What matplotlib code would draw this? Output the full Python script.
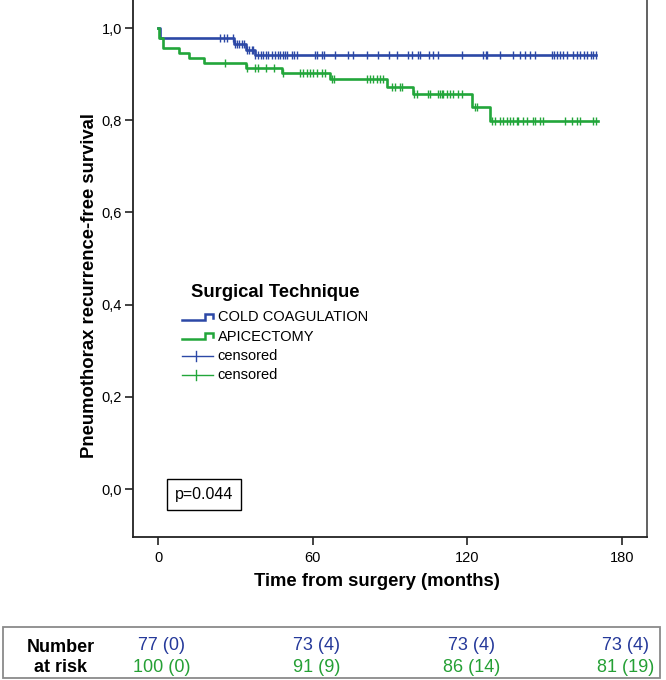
import matplotlib
matplotlib.use('Agg')
import matplotlib.pyplot as plt
import numpy as np
from matplotlib.legend_handler import HandlerBase
from matplotlib.lines import Line2D
from matplotlib.patches import Rectangle
import matplotlib.transforms as mtransforms

plt.rcParams['font.family'] = ['Liberation Sans', 'DejaVu Sans']

# ---------------- data ----------------
group_names = ['COLD COAGULATION', 'APICECTOMY']

blue_times = [0, 0.8, 29.5, 34.0, 37.5]
blue_surv = [1.0, 0.978, 0.965, 0.953, 0.942]
blue_end = 170.0
blue_censor = [24.0, 25.6, 26.9, 29.0, 29.9, 30.5, 31.6, 32.5, 33.4, 34.4, 35.4,
               36.3, 37.0, 37.6, 38.9, 39.8, 40.9, 41.9, 42.8, 44.1, 45.4, 46.7,
               47.3, 48.6, 49.3, 49.9, 51.9, 52.8, 53.8, 60.9, 61.8, 63.5, 64.4,
               68.7, 73.8, 75.8, 80.9, 85.5, 89.5, 92.9, 97.1, 98.4, 101.0, 101.6,
               105.2, 106.8, 108.7, 117.8, 126.2, 127.2, 127.7, 132.7, 137.8,
               140.4, 142.4, 144.3, 146.2, 152.7, 153.6, 154.7, 155.9, 157.0,
               158.5, 161.1, 162.4, 163.9, 165.2, 166.3, 167.9, 168.9, 169.9]

green_times = [0, 0.5, 1.8, 8.3, 12.2, 18.0, 34.1, 48.0, 66.7, 89.0, 99.0, 121.7, 128.8]
green_surv = [1.0, 0.978, 0.957, 0.947, 0.936, 0.925, 0.914, 0.903, 0.889, 0.873,
              0.856, 0.829, 0.798]
green_end = 170.5
green_censor = [26.0, 34.5, 37.6, 38.9, 41.9, 45.0, 48.3, 55.1, 56.4, 57.7, 59.0,
                60.3, 61.5, 63.5, 64.8, 67.4, 68.3, 80.9, 82.2, 83.5, 84.8, 86.1,
                87.4, 90.6, 91.9, 93.9, 94.5, 99.4, 100.3, 104.9, 105.5, 108.7,
                109.4, 110.0, 110.7, 112.0, 113.3, 114.5, 116.5, 117.8, 123.0,
                123.6, 129.4, 130.7, 132.7, 134.0, 135.3, 136.5, 137.8, 139.1,
                139.8, 141.7, 143.0, 145.6, 146.2, 148.2, 149.5, 157.9, 160.5,
                162.4, 163.9, 168.9, 169.9]

risk_times = [0, 60, 120, 180]
risk_blue = ['77 (0)', '73 (4)', '73 (4)', '73 (4)']
risk_green = ['100 (0)', '91 (9)', '86 (14)', '81 (19)']

x_ticks = [0, 60, 120, 180]
y_ticks = [0.0, 0.2, 0.4, 0.6, 0.8, 1.0]
y_tick_labels = ['0,0', '0,2', '0,4', '0,6', '0,8', '1,0']
p_text = 'p=0.044'

# ---------------- style ----------------
BLUE = '#2c48a6'
GREEN = '#22a63a'
BLUE_TXT = '#25399a'
GREEN_TXT = '#25a035'

W, H = 666, 680
fig = plt.figure(figsize=(W / 100, H / 100), dpi=100)
ax = fig.add_axes([133 / W, (H - 537) / H, (647 - 133) / W, 537 / H])

ax.set_xlim(-9.7, 189.7)
ax.set_ylim(-0.104, 1.061)


def draw_group(times, surv, end, censor, color):
    t = list(times) + [end]
    s = list(surv) + [surv[-1]]
    ax.step(t, s, where='post', color=color, lw=1.9, zorder=3)
    idx = np.searchsorted(np.array(times), np.array(censor), side='right') - 1
    cy = np.array(surv)[idx]
    ax.plot(censor, cy, linestyle='none', marker='|', markersize=6,
            markeredgewidth=1.0, color=color, zorder=4)


draw_group(blue_times, blue_surv, blue_end, blue_censor, BLUE)
draw_group(green_times, green_surv, green_end, green_censor, GREEN)

# axes styling
ax.spines['top'].set_visible(False)
for side in ['left', 'bottom']:
    ax.spines[side].set_color('#222222')
    ax.spines[side].set_linewidth(1.3)
ax.spines['right'].set_color('#555555')
ax.spines['right'].set_linewidth(1.3)
ax.set_xticks(x_ticks)
ax.set_yticks(y_ticks)
ax.set_yticklabels(y_tick_labels)
ax.tick_params(axis='both', direction='out', length=6, width=1.2,
               colors='#222222', labelsize=10.5, labelcolor='black')
ax.tick_params(axis='x', pad=4)
ax.tick_params(axis='y', pad=2)

fig.text(89 / W, 1 - 286 / H, 'Pneumothorax recurrence-free survival',
         rotation=90, ha='center', va='center', fontsize=13.3, fontweight='bold')
fig.text(377 / W, 1 - 582 / H, 'Time from surgery (months)',
         ha='center', va='center', fontsize=13.3, fontweight='bold')

# p-value box
ax.text(0.138, 0.080, p_text, transform=ax.transAxes, ha='center', va='center',
        fontsize=11.5, bbox=dict(boxstyle='square,pad=0.5', fc='white',
                                 ec='black', lw=1.0))


# legend
class StepHandler(HandlerBase):
    def create_artists(self, legend, orig_handle, xdescent, ydescent,
                       width, height, fontsize, trans):
        x0 = -xdescent
        y0 = -ydescent
        xs = np.array([0.0, 0.68, 0.68, 0.92, 0.92]) * width + x0
        ys = np.array([0.15, 0.15, 0.75, 0.75, 0.35]) * height + y0
        ln = Line2D(xs, ys, color=orig_handle.get_color(), lw=1.8,
                    transform=trans, solid_joinstyle='miter')
        return [ln]


class CensorHandler(HandlerBase):
    def create_artists(self, legend, orig_handle, xdescent, ydescent,
                       width, height, fontsize, trans):
        x0 = -xdescent
        y0 = -ydescent
        ln = Line2D([x0, x0 + 0.92 * width], [y0 + 0.4 * height] * 2,
                    color=orig_handle.get_color(), lw=1.0, transform=trans)
        tk = Line2D([x0 + 0.42 * width] * 2,
                    [y0 - 0.1 * height, y0 + 0.9 * height],
                    color=orig_handle.get_color(), lw=1.0, transform=trans)
        return [ln, tk]


h_b = Line2D([], [], color=BLUE)
h_g = Line2D([], [], color=GREEN)
h_cb = Line2D([], [], color=BLUE)
h_cg = Line2D([], [], color=GREEN)
leg = ax.legend([h_b, h_g, h_cb, h_cg],
                [group_names[0], group_names[1], 'censored', 'censored'],
                handler_map={h_b: StepHandler(), h_g: StepHandler(),
                             h_cb: CensorHandler(), h_cg: CensorHandler()},
                loc='upper left', bbox_to_anchor=(0.095, 0.422),
                frameon=False, fontsize=10.5, handlelength=2.3,
                handletextpad=0.15, labelspacing=0.36, borderpad=0,
                borderaxespad=0)
ax.text(0.113, 0.456, 'Surgical Technique', transform=ax.transAxes,
        ha='left', va='center', fontsize=13.3, fontweight='bold')

# number at risk table
fig.patches.append(Rectangle((3 / W, 2 / H), 657 / W, 51 / H,
                             transform=fig.transFigure, fill=False,
                             edgecolor='#8a8a8a', lw=1.3))
fig.text(61 / W, 1 - 648 / H, 'Number', ha='center', va='center',
         fontsize=13, fontweight='bold')
fig.text(61 / W, 1 - 668 / H, 'at risk', ha='center', va='center',
         fontsize=13, fontweight='bold')
blend = mtransforms.blended_transform_factory(ax.transData, fig.transFigure)
for t, sb, sg in zip(risk_times, risk_blue, risk_green):
    ax.text(t + 1.5, 1 - 645 / H, sb, transform=blend, ha='center', va='center',
            fontsize=13, color=BLUE_TXT, clip_on=False)
    ax.text(t + 1.5, 1 - 667 / H, sg, transform=blend, ha='center', va='center',
            fontsize=13, color=GREEN_TXT, clip_on=False)

fig.savefig('out.png', dpi=100)
